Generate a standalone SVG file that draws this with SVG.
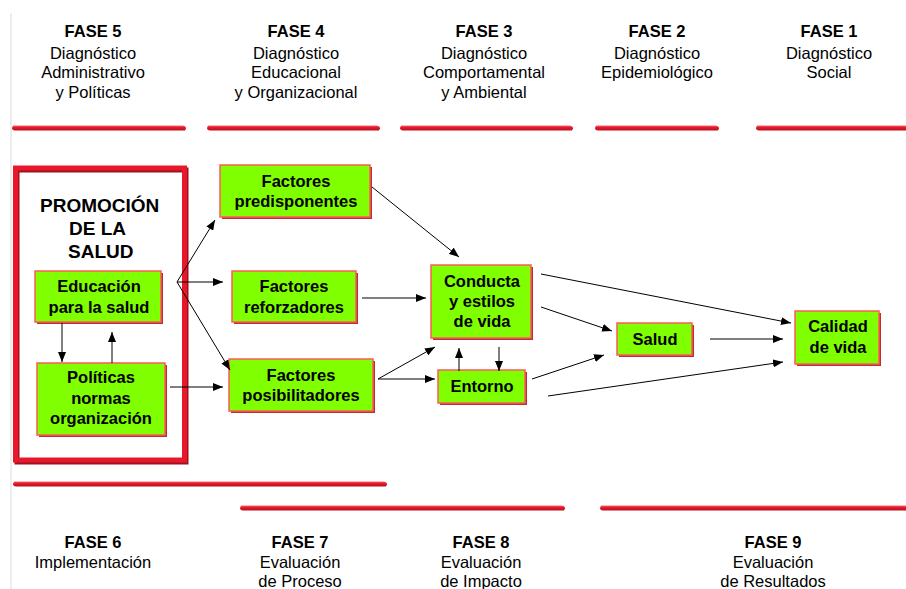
<svg xmlns="http://www.w3.org/2000/svg" width="906" height="589" viewBox="0 0 906 589">
<style>
text{font-family:"Liberation Sans",Arial,sans-serif;fill:#000}
.h{font-size:16.5px;text-anchor:middle}
.hb{font-size:16.5px;font-weight:bold;text-anchor:middle}
.n{font-size:16.5px;font-weight:bold;text-anchor:middle}
.p{font-size:19px;font-weight:bold}
.box{fill:#80ff00;stroke:#ff5a5a;stroke-width:1.5}
.sh{fill:#b83030}
.bar{fill:url(#rg)}
.c{stroke:#000;stroke-width:1;fill:none;marker-end:url(#ah)}
</style>
<defs>
<linearGradient id="rg" x1="0" y1="0" x2="0" y2="1">
<stop offset="0" stop-color="#f4707c"/>
<stop offset="0.35" stop-color="#ea1a2c"/>
<stop offset="1" stop-color="#b8101e"/>
</linearGradient>
<marker id="ah" markerUnits="userSpaceOnUse" markerWidth="10" markerHeight="8" refX="10" refY="4" orient="auto">
<path d="M0,0 L10,4 L0,8 z" fill="#000"/>
</marker>
</defs>
<rect width="906" height="589" fill="#fff"/>
<line x1="11" y1="13" x2="11" y2="589" stroke="#dcdcdc" stroke-width="1"/>

<g id="top-bars">
<path class="bar" d="M13,125.5 L183,125.5 Q186,126 186,128.5 L185,130.5 L15,130.5 Q12,130 12,128 Z"/>
<path class="bar" d="M208,125.5 L377,125.5 Q380,126 380,128.5 L379,130.5 L210,130.5 Q207,130 207,128 Z"/>
<path class="bar" d="M401,125.5 L570,125.5 Q573,126 573,128.5 L572,130.5 L403,130.5 Q400,130 400,128 Z"/>
<path class="bar" d="M596,125.5 L716,125.5 Q719,126 719,128.5 L718,130.5 L598,130.5 Q595,130 595,128 Z"/>
<path class="bar" d="M757,125.5 L906,125.5 L906,130.5 L759,130.5 Q756,130 756,128 Z"/>
</g>
<g id="bottom-bars">
<path class="bar" d="M14,481.5 L384,481.5 Q387,482 387,484.5 L386,486.5 L16,486.5 Q13,486 13,484 Z"/>
<path class="bar" d="M241,505.5 L562,505.5 Q565,506 565,508.5 L564,510.5 L243,510.5 Q240,510 240,508 Z"/>
<path class="bar" d="M601,505.5 L906,505.5 L906,510.5 L603,510.5 Q600,510 600,508 Z"/>
</g>

<g id="fase5"><text class="hb" x="93" y="37">FASE 5</text><text class="h" x="93" y="59">Diagnóstico</text><text class="h" x="93" y="78">Administrativo</text><text class="h" x="93" y="98">y Políticas</text></g>
<g id="fase4"><text class="hb" x="296" y="37">FASE 4</text><text class="h" x="296" y="59">Diagnóstico</text><text class="h" x="296" y="78">Educacional</text><text class="h" x="296" y="98">y Organizacional</text></g>
<g id="fase3"><text class="hb" x="484" y="37">FASE 3</text><text class="h" x="484" y="59">Diagnóstico</text><text class="h" x="484" y="78">Comportamental</text><text class="h" x="484" y="98">y Ambiental</text></g>
<g id="fase2"><text class="hb" x="657" y="37">FASE 2</text><text class="h" x="657" y="59">Diagnóstico</text><text class="h" x="657" y="78">Epidemiológico</text></g>
<g id="fase1"><text class="hb" x="829" y="37">FASE 1</text><text class="h" x="829" y="59">Diagnóstico</text><text class="h" x="829" y="78">Social</text></g>

<g id="fase6"><text class="hb" x="93" y="548">FASE 6</text><text class="h" x="93" y="568">Implementación</text></g>
<g id="fase7"><text class="hb" x="300" y="548">FASE 7</text><text class="h" x="300" y="568">Evaluación</text><text class="h" x="300" y="587">de Proceso</text></g>
<g id="fase8"><text class="hb" x="481" y="548">FASE 8</text><text class="h" x="481" y="568">Evaluación</text><text class="h" x="481" y="587">de Impacto</text></g>
<g id="fase9"><text class="hb" x="773" y="548">FASE 9</text><text class="h" x="773" y="568">Evaluación</text><text class="h" x="773" y="587">de Resultados</text></g>

<g id="promocion">
<rect x="17" y="170" width="169" height="292" fill="none" stroke="#a01020" stroke-width="5"/>
<rect x="15.5" y="168" width="169" height="292" fill="none" stroke="#e8182a" stroke-width="5"/>
<text class="p" x="40" y="212">PROMOCIÓN</text>
<text class="p" x="69" y="235">DE LA</text>
<text class="p" x="68" y="258">SALUD</text>
</g>

<g id="educacion">
<rect class="sh" x="37" y="273" width="126" height="51"/>
<rect class="box" x="35" y="271" width="126" height="51"/>
<text class="n" x="99" y="292">Educación</text><text class="n" x="99" y="313">para la salud</text>
</g>
<g id="politicas">
<rect class="sh" x="39" y="365" width="128" height="72"/>
<rect class="box" x="37" y="363" width="128" height="72"/>
<text class="n" x="101" y="383">Políticas</text><text class="n" x="101" y="404">normas</text><text class="n" x="101" y="424">organización</text>
</g>
<g id="predisponentes">
<rect class="sh" x="222" y="167" width="150" height="52"/>
<rect class="box" x="220" y="165" width="150" height="52"/>
<text class="n" x="296" y="187">Factores</text><text class="n" x="296" y="207">predisponentes</text>
</g>
<g id="reforzadores">
<rect class="sh" x="234" y="273" width="124" height="51"/>
<rect class="box" x="232" y="271" width="124" height="51"/>
<text class="n" x="294" y="292">Factores</text><text class="n" x="294" y="313">reforzadores</text>
</g>
<g id="posibilitadores">
<rect class="sh" x="231" y="361" width="144" height="52"/>
<rect class="box" x="229" y="359" width="144" height="52"/>
<text class="n" x="301" y="381">Factores</text><text class="n" x="301" y="401">posibilitadores</text>
</g>
<g id="conducta">
<rect class="sh" x="433" y="267" width="100" height="73"/>
<rect class="box" x="431" y="265" width="100" height="73"/>
<text class="n" x="482" y="287">Conducta</text><text class="n" x="482" y="307">y estilos</text><text class="n" x="482" y="327">de vida</text>
</g>
<g id="entorno">
<rect class="sh" x="440" y="372" width="87" height="33"/>
<rect class="box" x="438" y="370" width="87" height="33"/>
<text class="n" x="482" y="392">Entorno</text>
</g>
<g id="salud">
<rect class="sh" x="619" y="325" width="75" height="32"/>
<rect class="box" x="617" y="323" width="75" height="32"/>
<text class="n" x="655" y="345">Salud</text>
</g>
<g id="calidad">
<rect class="sh" x="797" y="313" width="84" height="53"/>
<rect class="box" x="795" y="311" width="84" height="53"/>
<text class="n" x="838" y="332">Calidad</text><text class="n" x="838" y="353">de vida</text>
</g>

<g id="connectors">
<line class="c" x1="177" y1="282" x2="215" y2="220"/>
<line class="c" x1="177" y1="282" x2="223" y2="282"/>
<line class="c" x1="177" y1="282" x2="230" y2="370"/>
<line class="c" x1="170" y1="387" x2="223" y2="387"/>
<line class="c" x1="62" y1="323" x2="62" y2="362"/>
<line class="c" x1="112" y1="363" x2="112" y2="332"/>
<line class="c" x1="372" y1="187" x2="459" y2="257"/>
<line class="c" x1="362" y1="298" x2="426" y2="298"/>
<line class="c" x1="378" y1="379" x2="435" y2="347"/>
<line class="c" x1="378" y1="379" x2="435" y2="379"/>
<line class="c" x1="459" y1="371" x2="459" y2="348"/>
<line class="c" x1="499" y1="347" x2="499" y2="371"/>
<line class="c" x1="541" y1="274" x2="791" y2="323"/>
<line class="c" x1="541" y1="307" x2="612" y2="331"/>
<line class="c" x1="532" y1="379" x2="604" y2="355"/>
<line class="c" x1="548" y1="396" x2="783" y2="362"/>
<line class="c" x1="710" y1="339" x2="783" y2="339"/>
</g>
</svg>
